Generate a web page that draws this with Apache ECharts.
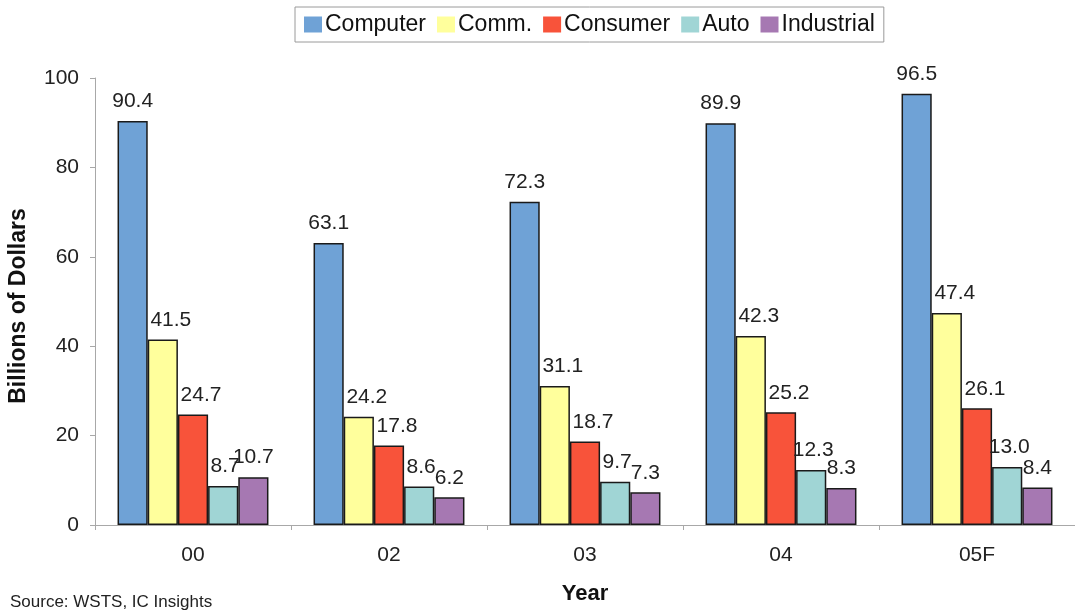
<!DOCTYPE html>
<html>
<head>
<meta charset="utf-8">
<script src="https://cdn.jsdelivr.net/npm/echarts@6/dist/echarts.min.js"></script>
<style>
  html, body { margin: 0; padding: 0; background: #ffffff; }
  #chart { width: 1075px; height: 610px; }
</style>
</head>
<body>
<div id="chart"></div>
<script>
const years = ['00', '02', '03', '04', '05F'];
const computer = [90.4, 63.1, 72.3, 89.9, 96.5];
const comm = [41.5, 24.2, 31.1, 42.3, 47.4];
const consumer = [24.7, 17.8, 18.7, 25.2, 26.1];
const auto = [8.7, 8.6, 9.7, 12.3, 13.0];
const industrial = [10.7, 6.2, 7.3, 8.3, 8.4];
const yTicks = [0, 20, 40, 60, 80, 100];

const seriesDefs = [
  { name: 'Computer', data: computer, color: '#6fa2d6', dx: 0 },
  { name: 'Comm.', data: comm, color: '#ffff9c', dx: 8 },
  { name: 'Consumer', data: consumer, color: '#f8533a', dx: 8 },
  { name: 'Auto', data: auto, color: '#a0d5d5', dx: 2 },
  { name: 'Industrial', data: industrial, color: '#a678b2', dx: 0 }
];

const FONT = '"Liberation Sans", Arial, sans-serif';

const chart = echarts.init(document.getElementById('chart'), null, { renderer: 'canvas' });
chart.setOption({
  backgroundColor: '#ffffff',
  animation: false,
  textStyle: { fontFamily: FONT },
  legend: {
    top: 7,
    left: 295,
    itemWidth: 18,
    itemHeight: 16,
    itemGap: 11,
    icon: 'rect',
    borderColor: '#9a9a9a',
    borderWidth: 1,
    padding: [6, 9, 6, 9],
    textStyle: { fontSize: 23, color: '#111', fontFamily: FONT, padding: [0, 0, 0, -2] },
    itemStyle: { borderWidth: 0 },
    data: seriesDefs.map(s => s.name)
  },
  grid: { left: 95, top: 78, width: 990, height: 451, containLabel: false },
  xAxis: {
    type: 'category',
    data: years,
    name: 'Year',
    nameLocation: 'middle',
    nameGap: 58,
    nameTextStyle: { fontSize: 22, fontWeight: 'bold', color: '#111', fontFamily: FONT },
    axisLine: { lineStyle: { color: '#a8a8a8', width: 1 } },
    axisTick: { show: true, length: 5, lineStyle: { color: '#a8a8a8' } },
    axisLabel: { fontSize: 21, color: '#222', margin: 20, fontFamily: FONT }
  },
  yAxis: {
    type: 'value',
    min: yTicks[0],
    max: yTicks[yTicks.length - 1],
    interval: yTicks[1] - yTicks[0],
    axisLine: { show: true, lineStyle: { color: '#a8a8a8', width: 1 } },
    axisTick: { show: true, length: 5, lineStyle: { color: '#a8a8a8' } },
    axisLabel: { fontSize: 21, color: '#222', margin: 16, fontFamily: FONT },
    splitLine: { show: false }
  },
  graphic: [
    {
      type: 'text',
      x: 19, y: 306,
      rotation: Math.PI / 2,
      style: {
        text: 'Billions of Dollars',
        fontSize: 23, fontWeight: 'bold', fill: '#111', fontFamily: FONT,
        textAlign: 'center', textVerticalAlign: 'middle'
      }
    },
    {
      type: 'text',
      left: 10, top: 594,
      style: {
        text: 'Source: WSTS, IC Insights',
        fontSize: 17, fill: '#222', fontFamily: FONT
      }
    }
  ],
  series: seriesDefs.map(s => ({
    name: s.name,
    type: 'bar',
    data: s.data,
    barGap: '0%',
    barCategoryGap: '23%',
    itemStyle: { color: s.color, borderColor: '#1a1a1a', borderWidth: 1.5 },
    label: {
      show: true,
      position: 'top',
      distance: 9,
      offset: [s.dx, 0],
      fontSize: 21,
      color: '#222',
      fontFamily: FONT,
      formatter: p => p.value.toFixed(1)
    }
  }))
});
</script>
</body>
</html>
